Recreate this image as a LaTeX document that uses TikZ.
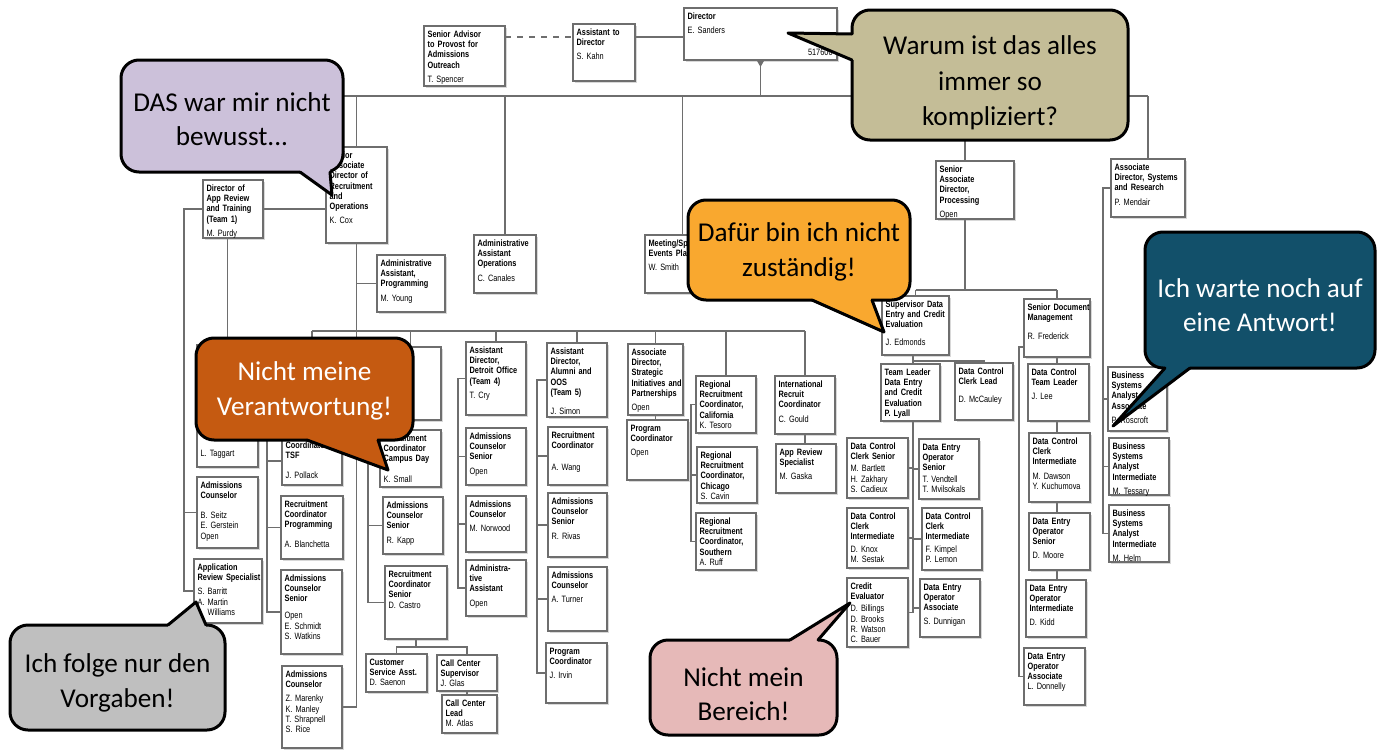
\documentclass[tikz,border=0pt]{standalone}
\usepackage{fontspec}
\setmainfont{Carlito}
\newfontfamily\orgfont[FakeStretch=0.8]{Liberation Sans}
\usetikzlibrary{shadows,calc,backgrounds}
\setlength{\parindent}{0pt}
\definecolor{lavbubble}{HTML}{CCC1DA}
\definecolor{tanbubble}{HTML}{C4BD97}
\definecolor{orgbubble}{HTML}{F9A82F}
\definecolor{rustbubble}{HTML}{C55A11}
\definecolor{tealbubble}{HTML}{12506A}
\definecolor{graybubble}{HTML}{BFBFBF}
\definecolor{pinkbubble}{HTML}{E6B9B8}
\definecolor{orgline}{HTML}{6E6E6E}

% box: [gap]{name}{x}{y}{w}{h}{title}{names}, all in px
\newcommand{\orgbox}[8][2pt]{%
  \node[orgbox, minimum width={#5*0.5pt}, minimum height={#6*0.5pt}] (#2) at (#3,#4) {};
  \node[orgtext] (#2-t) at ([xshift=1.6pt,yshift=-2.2pt]#2.north west) {\textbf{#7}\\[#1]#8};}

\begin{document}
\begin{tikzpicture}[x=0.5pt, y=-0.5pt,
  orgbox/.style={draw=orgline, line width=0.6pt, fill=white, anchor=north west, inner sep=0pt, outer sep=0pt,
    drop shadow={shadow xshift=1pt, shadow yshift=-1.2pt, opacity=0.3}},
  orgtext/.style={anchor=north west, inner sep=0pt, align=left, text width=60pt,
    font=\orgfont\fontsize{4.6}{5.1}\selectfont},
  link/.style={draw=orgline, line width=0.6pt},
  bubble/.style={draw=black, line width=1.5pt, rounded corners=9pt, inner sep=0pt},
  bubbletext/.style={align=center, inner sep=0pt, font=\fontsize{13.6}{17.3}\selectfont},
  tail/.style={draw=black, line width=1.5pt, line join=round, line cap=round}]

\useasboundingbox (0,0) rectangle (1383,750);

% top row
\orgbox{adv}{424}{26}{81}{60}{Senior Advisor\\to Provost for\\Admissions\\Outreach}{T. Spencer}
\orgbox{kahn}{573}{24}{62}{57}{Assistant to\\Director}{S. Kahn}
\orgbox{dir}{684}{8}{153}{52}{Director}{E. Sanders}
\node[orgtext, text width=, anchor=south east] (dircode) at ([xshift=-2pt,yshift=2pt]dir.south east) {517600};

% second row
\orgbox{purdy}{203}{180}{60}{58}{Director of\\App Review\\and Training\\(Team 1)}{M. Purdy}
\orgbox{cox}{326}{147}{61}{96}{Senior\\Associate\\Director of\\Recruitment\\and\\Operations}{K. Cox}
\orgbox{young}{377}{255}{68}{57}{Administrative\\Assistant,\\Programming}{M. Young}
\orgbox{canales}{474}{235}{62}{58}{Administrative\\Assistant\\Operations}{C. Canales}
\node[orgbox, minimum width=37.5pt, minimum height=29pt] (smith) at (645,235) {};
\begin{scope}
  \clip (645,235) rectangle (686,293);
  \node[orgtext] (smith-t) at ([xshift=1.6pt,yshift=-2.2pt]smith.north west) {\textbf{Meeting/Sp\\Events Pla}\\[2pt]W. Smith};
\end{scope}
\orgbox{proc}{936}{161}{78}{58}{Senior\\Associate\\Director,\\Processing}{Open}
\orgbox{mendair}{1111}{159}{74}{58}{Associate\\Director, Systems\\and Research}{P. Mendair}

% team 1
\node[orgbox, minimum width=30.5pt, minimum height=61pt] (taggart) at (197,345) {};
\node[orgtext, anchor=south west] (taggart-t) at ([xshift=1.6pt,yshift=4pt]taggart.south west) {L. Taggart};
\orgbox{seitz}{197}{477}{61}{71}{Admissions\\Counselor}{\rule{0pt}{7pt}B. Seitz\\E. Gerstein\\Open}
\orgbox{barritt}{194}{559}{68}{64}{Application\\Review Specialist}{S. Barritt\\A. Martin\\\hspace*{5pt}Williams}

% team 2
\node[orgbox, minimum width=30pt, minimum height=37pt] (col2top) at (282,347) {};
\orgbox{pollack}{282}{437}{60}{48}{Coordinator\\TSF}{\rule{0pt}{7pt}J. Pollack}
\orgbox{blanchetta}{281}{496}{62}{63}{Recruitment\\Coordinator\\Programming}{\rule{0pt}{6pt}A. Blanchetta}
\orgbox{csenior}{281}{570}{61}{84}{Admissions\\Counselor\\Senior}{\rule{0pt}{5.5pt}Open\\E. Schmidt\\S. Watkins}
\orgbox{marenky}{282}{666}{60}{82}{Admissions\\Counselor}{\rule{0pt}{5pt}Z. Marenky\\K. Manley\\T. Shrapnell\\S. Rice}

% team 3
\node[orgbox, minimum width=30.5pt, minimum height=36.5pt] (col3top) at (380,347) {};
\orgbox{small}{380}{430}{61}{57}{Recruitment\\Coordinator\\Campus Day}{\rule{0pt}{6.5pt}K. Small}
\orgbox{kapp}{383}{497}{60}{57}{Admissions\\Counselor\\Senior}{R. Kapp}
\orgbox[0pt]{castro}{385}{566}{62}{73}{Recruitment\\Coordinator\\Senior}{D. Castro}
\orgbox[0pt]{saenon}{366}{654}{61}{38}{Customer\\Service Asst.}{D. Saenon}
\orgbox[0pt]{glas}{437}{655}{60}{36}{Call Center\\Supervisor}{J. Glas}
\orgbox[0pt]{atlas}{442}{695}{55}{38}{Call Center\\Lead}{M. Atlas}

% team 4
\orgbox{cry}{466}{342}{60}{73}{Assistant\\Director,\\Detroit Office\\(Team 4)}{T. Cry}
\orgbox{dsenior}{466}{428}{60}{57}{Admissions\\Counselor\\Senior}{Open}
\orgbox{norwood}{466}{496}{60}{56}{Admissions\\Counselor}{M. Norwood}
\orgbox{dadmin}{466}{560}{60}{56}{Administra-\\tive\\Assistant}{Open}

% team 5
\orgbox{simon}{547}{343}{60}{74}{Assistant\\Director,\\Alumni and\\OOS\\(Team 5)}{\rule{0pt}{5.5pt}J. Simon}
\orgbox{wang}{548}{427}{59}{58}{Recruitment\\Coordinator}{\rule{0pt}{8pt}A. Wang}
\orgbox{rivas}{548}{493}{59}{64}{Admissions\\Counselor\\Senior}{R. Rivas}
\orgbox{turner}{548}{567}{59}{64}{Admissions\\Counselor}{A. Turner}
\orgbox{irvin}{546}{643}{61}{60}{Program\\Coordinator}{\rule{0pt}{5pt}J. Irvin}

% strategic, regional, international
\orgbox{strat}{628}{344}{55}{71}{Associate\\Director,\\Strategic\\Initiatives and\\Partnerships}{Open}
\orgbox{progc}{627}{420}{61}{60}{Program\\Coordinator}{Open}
\orgbox[0pt]{tesoro}{696}{376}{60}{57}{Regional\\Recruitment\\Coordinator,\\California}{K. Tesoro}
\orgbox[0pt]{cavin}{697}{447}{60}{56}{Regional\\Recruitment\\Coordinator,\\Chicago}{S. Cavin}
\orgbox[0pt]{ruff}{696}{513}{60}{57}{Regional\\Recruitment\\Coordinator,\\Southern}{A. Ruff}
\orgbox{gould}{775}{376}{60}{58}{International\\Recruit\\Coordinator}{C. Gould}
\orgbox{gaska}{776}{444}{60}{49}{App Review\\Specialist}{M. Gaska}

% processing
\orgbox{edmonds}{882}{296}{67}{59}{Supervisor Data\\Entry and Credit\\Evaluation}{\rule{0pt}{6pt}J. Edmonds}
\orgbox[0pt]{lyall}{881}{364}{59}{57}{Team Leader\\Data Entry\\and Credit\\Evaluation\\P. Lyall}{}
\orgbox{mccauley}{955}{363}{58}{57}{Data Control\\Clerk Lead}{\rule{0pt}{6pt}D. McCauley}
\orgbox[1pt]{bartlett}{847}{438}{61}{60}{Data Control\\Clerk Senior}{M. Bartlett\\H. Zakhary\\S. Cadieux}
\orgbox[1pt]{knox}{847}{508}{61}{60}{Data Control\\Clerk\\Intermediate}{D. Knox\\M. Sestak}
\orgbox[1pt]{billings}{847}{578}{61}{69}{Credit\\Evaluator}{D. Billings\\D. Brooks\\R. Watson\\C. Bauer}
\orgbox[1pt]{vendtell}{919}{439}{60}{60}{Data Entry\\Operator\\Senior}{T. Vendtell\\T. Mvilsokals}
\orgbox[1pt]{kimpel}{922}{508}{60}{62}{Data Control\\Clerk\\Intermediate}{F. Kimpel\\P. Lemon}
\orgbox{dunnigan}{920}{579}{60}{58}{Data Entry\\Operator\\Associate}{S. Dunnigan}

\orgbox{frederick}{1024}{299}{66}{58}{Senior Document\\Management}{\rule{0pt}{5.5pt}R. Frederick}
\orgbox{lee}{1028}{364}{61}{57}{Data Control\\Team Leader}{J. Lee}
\orgbox{dawson}{1029}{433}{61}{69}{Data Control\\Clerk\\Intermediate}{M. Dawson\\Y. Kuchumova}
\orgbox{moore}{1029}{513}{61}{57}{Data Entry\\Operator\\Senior}{D. Moore}
\orgbox{kidd}{1026}{580}{60}{57}{Data Entry\\Operator\\Intermediate}{D. Kidd}
\orgbox[0pt]{donnelly}{1024}{648}{61}{57}{Data Entry\\Operator\\Associate}{L. Donnelly}

% systems
\orgbox{roscroft}{1108}{367}{59}{64}{Business\\Systems\\Analyst\\Associate}{P. Roscroft}
\orgbox{tessary}{1109}{438}{60}{57}{Business\\Systems\\Analyst\\Intermediate}{M. Tessary}
\orgbox{helm}{1109}{505}{60}{57}{Business\\Systems\\Analyst\\Intermediate}{M. Helm}

% lines
\coordinate (topline) at (0,37);
\coordinate (bus1) at (0,96);
\coordinate (bus1start) at (300,96);
\coordinate (bus2) at (0,331);
\coordinate (bus3) at (0,290);
\coordinate (leftrail) at (184,0);
\coordinate (col2rail) at (267,0);
\coordinate (col3rail) at (368,0);
\coordinate (detrail) at (458,0);
\coordinate (alumrail) at (537,0);
\coordinate (regrail) at (691,0);
\coordinate (procrail) at (965,0);
\coordinate (teamrail) at (913,0);
\coordinate (docrail) at (1019,0);
\coordinate (sysrail) at (1103,0);
\coordinate (edsplit) at (913,361);
\coordinate (docstub) at (1024,347);
\coordinate (castrosplit) at ($(castro.south)+(0,8)$);

\begin{scope}[on background layer]
  \fill[white] (0,0) rectangle (1383,750);
  \draw[link, dashed] (adv.east |- topline) -- (kahn.west |- topline);
  \draw[link] (kahn.east |- topline) -- (dir.west |- topline);
  \draw[link] (dir.south) -- (dir.south |- bus1);
  \draw[link] (bus1start) -- (mendair.north |- bus1);
  \foreach \n in {cox,canales,smith,mendair}
    \draw[link] (\n.north) -- (\n.north |- bus1);
  \draw[link] (procrail |- bus1) -- (procrail |- bus3);

  \draw[link] (purdy.east) -- (purdy.east -| cox.west);
  \draw[link] (purdy.west) -| (leftrail |- barritt.west) -- (barritt.west);
  \draw[link] (seitz.west) -- (seitz.west -| leftrail);
  \draw[link] (taggart.north) -- (taggart.north |- purdy.south);
  \draw[link] (cox.south) -- (cox.south |- marenky.east) -- (marenky.east);
  \draw[link] (young.west) -- (young.west -| cox.south);

  \draw[link] (col2top.north |- bus2) -- (gould.north |- bus2);
  \foreach \n in {col2top,col3top,cry,simon,strat,tesoro,gould}
    \draw[link] (\n.north) -- (\n.north |- bus2);

  \draw[link] (col2top.west) -| (col2rail |- csenior.west) -- (csenior.west);
  \foreach \n in {pollack,blanchetta}
    \draw[link] (\n.west) -- (\n.west -| col2rail);
  \draw[link] (col3top.west) -| (col3rail |- castro.west) -- (castro.west);
  \foreach \n in {small,kapp}
    \draw[link] (\n.west) -- (\n.west -| col3rail);
  \draw[link] (castro.south) -- (castrosplit);
  \draw[link] (saenon.north) |- (castrosplit) -| (glas.north);
  \draw[link] (glas.south) -- (glas.south |- atlas.north);

  \draw[link] (cry.west) -| (detrail |- dadmin.west) -- (dadmin.west);
  \foreach \n in {dsenior,norwood}
    \draw[link] (\n.west) -- (\n.west -| detrail);
  \draw[link] (simon.west) -| (alumrail |- irvin.west) -- (irvin.west);
  \foreach \n in {wang,rivas,turner}
    \draw[link] (\n.west) -- (\n.west -| alumrail);
  \draw[link] (strat.south) -- (strat.south |- progc.north);
  \draw[link] (tesoro.west) -| (regrail |- ruff.west) -- (ruff.west);
  \draw[link] (cavin.west) -- (cavin.west -| regrail);
  \draw[link] (gould.south) -- (gould.south |- gaska.north);

  \draw[link] (edmonds.north |- bus3) -- (frederick.north |- bus3);
  \draw[link] (edmonds.north) -- (edmonds.north |- bus3);
  \draw[link] (frederick.north) -- (frederick.north |- bus3);
  \draw[link] (teamrail |- edmonds.south) -- (teamrail |- billings.east);
  \draw[link] (edsplit) -| (mccauley.north);
  \foreach \n in {bartlett,knox,billings}
    \draw[link] (\n.east) -- (\n.east -| teamrail);
  \foreach \n in {vendtell,kimpel,dunnigan}
    \draw[link] (\n.west) -- (\n.west -| teamrail);
  \draw[link] (frederick.south) -- (frederick.south |- kidd.north);
  \draw[link] (docstub) -| (docrail |- donnelly.west) -- (donnelly.west);
  \draw[link] (mendair.west) -| (sysrail |- helm.west) -- (helm.west);
  \foreach \n in {roscroft,tessary}
    \draw[link] (\n.west) -- (\n.west -| sysrail);
\end{scope}
\fill[orgline] ([xshift=-2pt]dir.south) -- ++(8,0) -- ++(-4,7) -- cycle;

% speech bubbles
\node[bubble, fill=lavbubble, minimum width=111pt, minimum height=56pt] (lav) at (232,116) {};
\coordinate (lavtip) at (332,195);
\fill[lavbubble] (300,167) -- (300,172) -- (lavtip) -- (330,172) -- (330,167) -- cycle;
\draw[tail] (300,172) -- (lavtip) -- (330,172);
\node[bubbletext] (lav-t) at (232,119) {DAS war mir nicht\\bewusst...};

\node[bubble, fill=tanbubble, minimum width=138pt, minimum height=65pt] (tan) at (990,75) {};
\coordinate (tantip) at (788,33);
\fill[tanbubble] (857,34) -- (852,34) -- (tantip) -- (852,60) -- (857,60) -- cycle;
\draw[tail] (852,34) -- (tantip) -- (852,60);
\node[bubbletext, font=\fontsize{13.6}{17.8}\selectfont] (tan-t) at (990,83) {Warum ist das alles\\immer so\\kompliziert?};

\node[bubble, fill=orgbubble, minimum width=111pt, minimum height=50pt] (orange) at (799,250) {};
\coordinate (orangetip) at (884,332);
\fill[orgbubble] (812,295) -- (812,300) -- (orangetip) -- (872,300) -- (872,295) -- cycle;
\draw[tail] (812,300) -- (orangetip) -- (872,300);
\node[bubbletext] (orange-t) at (799,252) {Dafür bin ich nicht\\zuständig!};

\node[bubble, fill=rustbubble, minimum width=108.5pt, minimum height=51pt] (rust) at (304.5,389) {};
\coordinate (rusttip) at (388,470);
\fill[rustbubble] (307,435) -- (307,440) -- (rusttip) -- (378,440) -- (378,435) -- cycle;
\draw[tail] (307,440) -- (rusttip) -- (378,440);
\node[bubbletext, text=white] (rust-t) at (304.5,391) {Nicht meine\\Verantwortung!};

\node[bubble, fill=tealbubble, minimum width=115pt, minimum height=68pt] (teal) at (1260,300) {};
\coordinate (tealtip) at (1113,426);
\fill[tealbubble] (1165,363) -- (1165,368) -- (tealtip) -- (1190,368) -- (1190,363) -- cycle;
\draw[tail] (1165,368) -- (tealtip) -- (1190,368);
\node[bubbletext, text=white] (teal-t) at (1260,305) {Ich warte noch auf\\eine Antwort!};

\node[bubble, fill=graybubble, minimum width=107.5pt, minimum height=52.5pt] (gray) at (117.5,677.5) {};
\coordinate (graytip) at (196,602);
\fill[graybubble] (168,630) -- (168,625) -- (graytip) -- (206,625) -- (206,630) -- cycle;
\draw[tail] (168,625) -- (graytip) -- (206,625);
\node[bubbletext] (gray-t) at (117.5,683) {Ich folge nur den\\Vorgaben!};

\node[bubble, fill=pinkbubble, minimum width=93.5pt, minimum height=47.5pt] (pink) at (743.5,687.5) {};
\coordinate (pinktip) at (850,603);
\fill[pinkbubble] (790,645) -- (790,640) -- (pinktip) -- (818,640) -- (818,645) -- cycle;
\draw[tail] (790,640) -- (pinktip) -- (818,640);
\node[bubbletext] (pink-t) at (743.5,694) {Nicht mein\\Bereich!};
\end{tikzpicture}
\end{document}
